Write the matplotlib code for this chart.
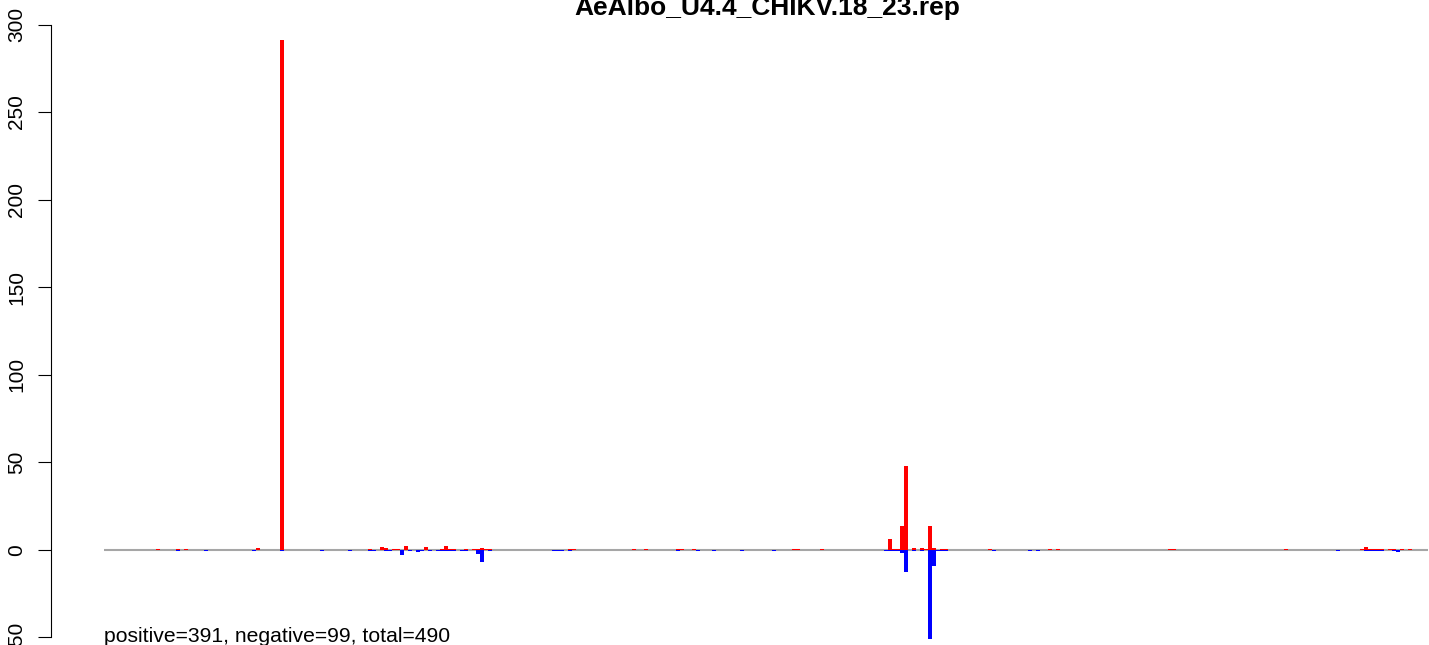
import matplotlib
matplotlib.use("Agg")
import matplotlib.pyplot as plt

plt.rcParams['font.family'] = ['Liberation Sans', 'DejaVu Sans']

title = "AeAlbo_U4.4_CHIKV.18_23.rep"
summary = "positive=391, negative=99, total=490"
n_bins = 331

# positive strand reads (red), by bin
pos_bins = [13, 18, 20, 38, 44, 66, 69, 70, 72, 73, 75, 80, 84, 85, 86, 87, 90,
            92, 93, 94, 95, 96, 116, 117, 132, 135, 143, 144, 147, 172, 173, 179,
            196, 197, 198, 199, 200, 202, 204, 205, 206, 207, 209, 210, 221, 236,
            238, 266, 267, 295, 314, 315, 316, 317, 318, 319, 321, 322, 324, 326]
pos_vals = [0.6, 0.6, 0.6, 1, 291, 0.6, 1.5, 1, 0.6, 0.6, 2, 1.5, 0.6, 2, 0.6, 0.6, 0.6,
            0.6, 0.6, 1, 0.6, 0.6, 0.6, 0.6, 0.6, 0.6, 0.6, 0.6, 0.6, 0.6, 0.6, 0.6,
            6, 0.6, 0.6, 13.5, 48, 1, 1, 0.6, 13.5, 1, 0.6, 0.6, 0.6, 0.6,
            0.6, 0.6, 0.6, 0.6, 0.6, 1.5, 0.6, 0.6, 0.6, 0.6, 0.6, 0.6, 0.6, 0.6]

# negative strand reads (blue), by bin
neg_bins = [18, 25, 37, 44, 54, 61, 66, 67, 70, 71, 74, 76, 78, 79, 81, 83, 84, 85,
            86, 87, 89, 90, 93, 94, 96, 112, 113, 114, 116, 143, 148, 152, 159, 167,
            195, 196, 197, 198, 199, 200, 202, 204, 206, 207, 208, 209, 210, 222,
            231, 233, 308, 315, 316, 317, 318, 319, 322, 323]
neg_vals = [0.6, 0.6, 0.6, 0.8, 0.6, 0.6, 1, 0.6, 0.6, 0.6, 3, 1, 1.5, 1, 0.6, 0.6, 0.6, 0.6,
            0.6, 0.6, 0.6, 0.6, 2.5, 7, 0.6, 0.6, 0.6, 0.6, 1, 0.6, 0.6, 0.6, 0.6, 0.6,
            0.6, 1, 0.6, 0.6, 1.7, 12.5, 1, 1, 51, 9.5, 0.6, 0.6, 0.6, 0.6,
            0.6, 0.6, 0.6, 0.6, 0.6, 0.6, 0.6, 0.6, 0.6, 1.5]

y_ticks = [-50, 0, 50, 100, 150, 200, 250, 300]

W, H = 1429, 645
fig = plt.figure(figsize=(W / 100, H / 100), dpi=100)
ax = fig.add_axes([104 / W, (H - 661.7) / H, 1324 / W, 661.7 / H])

ax.axhline(0, color='#a6a6a6', lw=1.5, zorder=2)
ax.bar(pos_bins, pos_vals, width=1, align='edge', color='#ff0000', linewidth=0, zorder=3)
ax.bar(neg_bins, [-v for v in neg_vals], width=1, align='edge', color='#0000ff',
       linewidth=0, zorder=3)

ax.set_xlim(0, n_bins)
ax.set_ylim(-64, 314)

for s in ['top', 'right', 'bottom']:
    ax.spines[s].set_visible(False)
ax.spines['left'].set_position(('outward', 38.4))
ax.spines['left'].set_bounds(-50, 300)
ax.spines['left'].set_linewidth(0.8)
ax.set_xticks([])
ax.set_yticks(y_ticks)
ax.set_yticklabels([str(t) for t in y_ticks], rotation=90, va='center')
ax.tick_params(axis='y', length=9.6, width=0.8, pad=8, labelsize=15)

fig.text(767 / W, 1 - 15 / H, title, ha='center', va='baseline',
         fontsize=19, fontweight='bold')
fig.text(104.3 / W, (H - 642.5) / H, summary, ha='left', va='baseline', fontsize=15.2)

fig.savefig('out.png', dpi=100)
